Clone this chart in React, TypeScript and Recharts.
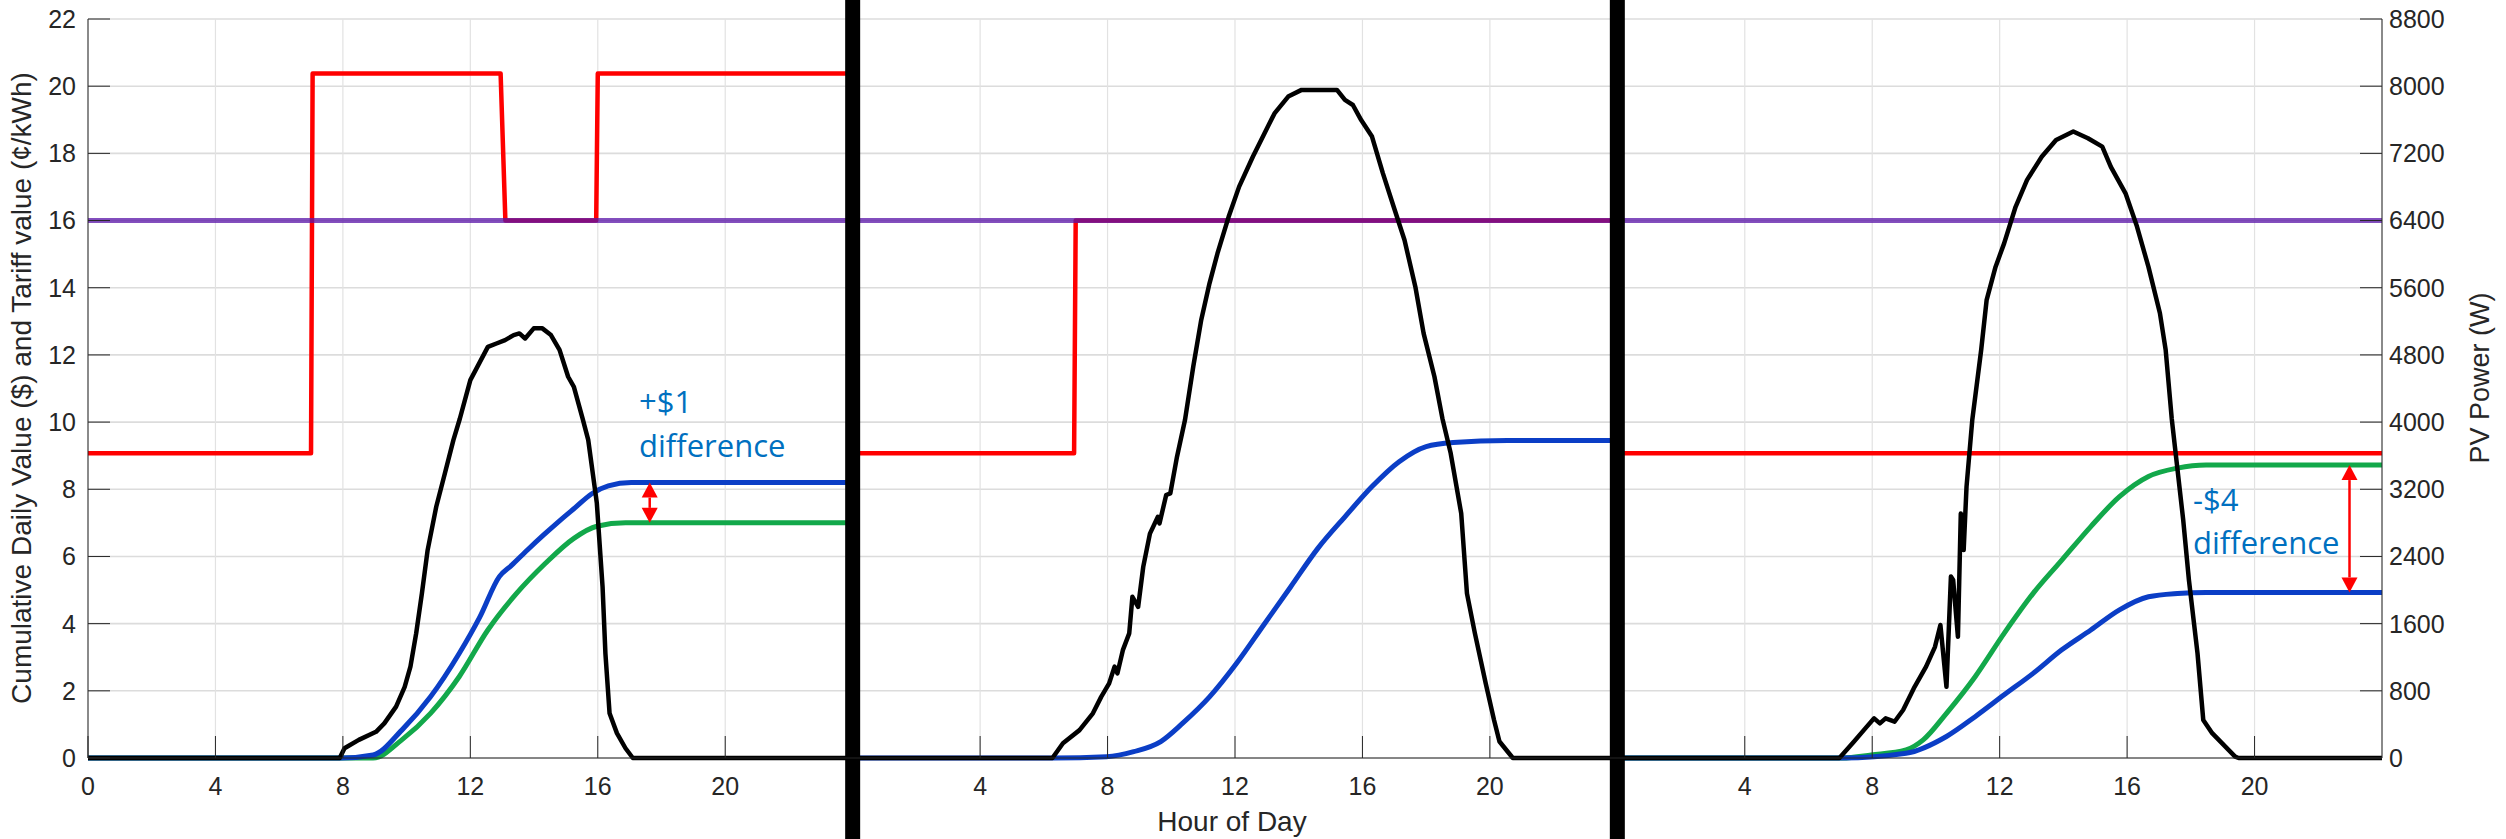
import { LineChart, Line, XAxis, YAxis, CartesianGrid, ReferenceLine } from 'recharts';

type Pt = [number, number];

// axis ticks (hour labels restart every day)
const hourTicks = [0, 4, 8, 12, 16, 20, 28, 32, 36, 40, 44, 52, 56, 60, 64, 68];
const valueTicks = [0, 2, 4, 6, 8, 10, 12, 14, 16, 18, 20, 22];
const powerTicks = [0, 800, 1600, 2400, 3200, 4000, 4800, 5600, 6400, 7200, 8000, 8800];
const dayBreaks = [24, 48];

// tariff, ¢/kWh  [hour of day, value]
const tariffDay1: Pt[] = [[0, 9.07], [7.0, 9.07], [7.05, 20.38], [12.95, 20.38], [13.1, 16], [15.95, 16], [16.0, 20.38], [24, 20.38]];
const tariffDay2: Pt[] = [[0, 9.07], [6.95, 9.07], [7.0, 16], [24, 16]];
const tariffDay3: Pt[] = [[0, 9.07], [24, 9.07]];
const flatTariff: Pt[] = [[0, 16], [72, 16]];

// PV power, W
const pvDay1: Pt[] = [[0, 0], [7.9, 0], [8.05, 116], [8.5, 216], [9.04, 312], [9.3, 412], [9.67, 612], [9.94, 848], [10.12, 1088], [10.3, 1484], [10.48, 1960], [10.66, 2476], [10.93, 2992], [11.2, 3388], [11.47, 3788], [11.67, 4040], [12.0, 4500], [12.55, 4896], [12.82, 4936], [13.09, 4976], [13.36, 5036], [13.54, 5056], [13.72, 4996], [13.99, 5116], [14.26, 5116], [14.53, 5036], [14.8, 4860], [15.07, 4540], [15.25, 4420], [15.52, 4048], [15.7, 3788], [15.97, 3036], [16.15, 2040], [16.24, 1244], [16.37, 532], [16.6, 296], [16.87, 116], [17.1, 0], [24, 0]];
const pvDay2: Pt[] = [[0, 0], [6.27, 0], [6.6, 176], [7.12, 332], [7.54, 532], [7.8, 728], [8.05, 888], [8.22, 1088], [8.31, 1008], [8.48, 1284], [8.68, 1484], [8.78, 1920], [8.96, 1800], [9.12, 2276], [9.33, 2672], [9.58, 2872], [9.63, 2792], [9.84, 3132], [9.97, 3152], [10.18, 3588], [10.43, 4024], [10.69, 4660], [10.94, 5216], [11.2, 5652], [11.45, 6008], [11.8, 6444], [12.13, 6804], [12.56, 7160], [12.9, 7420], [13.24, 7676], [13.67, 7876], [14.09, 7956], [15.2, 7956], [15.45, 7836], [15.7, 7776], [15.96, 7596], [16.3, 7400], [16.64, 6964], [16.98, 6564], [17.32, 6168], [17.66, 5612], [17.92, 5056], [18.26, 4540], [18.51, 4044], [18.77, 3628], [19.1, 2912], [19.28, 1960], [19.53, 1484], [19.87, 888], [20.13, 452], [20.3, 196], [20.72, 0], [24, 0]];
const pvDay3: Pt[] = [[0, 0], [6.97, 0], [7.43, 196], [7.79, 356], [8.06, 472], [8.24, 412], [8.42, 472], [8.7, 432], [8.97, 572], [9.33, 848], [9.69, 1088], [9.97, 1324], [10.14, 1584], [10.33, 848], [10.47, 2160], [10.54, 2120], [10.69, 1444], [10.78, 2912], [10.87, 2476], [10.96, 3232], [11.14, 4024], [11.42, 4860], [11.59, 5452], [11.87, 5848], [12.14, 6128], [12.5, 6564], [12.86, 6884], [13.32, 7160], [13.77, 7360], [14.31, 7460], [14.77, 7380], [15.22, 7280], [15.49, 7040], [15.95, 6724], [16.31, 6328], [16.67, 5848], [17.03, 5296], [17.21, 4860], [17.4, 4044], [17.76, 2836], [17.94, 2120], [18.21, 1244], [18.39, 452], [18.67, 296], [19.03, 156], [19.39, 16], [19.5, 0], [24, 0]];

// cumulative daily value, $
const blueDay1: Pt[] = [[0, 0], [7.96, 0], [8.95, 0.09], [9.85, 0.83], [10.75, 1.82], [11.65, 3.11], [12.3, 4.2], [12.91, 5.4], [13.3, 5.74], [13.8, 6.2], [14.3, 6.64], [14.8, 7.06], [15.3, 7.46], [15.8, 7.86], [16.33, 8.1], [17.05, 8.2], [24, 8.2]];
const greenDay1: Pt[] = [[0, 0], [8.95, 0], [9.85, 0.54], [10.75, 1.33], [11.65, 2.42], [12.55, 3.81], [13.45, 4.9], [14.35, 5.79], [15.25, 6.54], [15.97, 6.9], [16.87, 7.0], [24, 7.0]];
const blueDay2: Pt[] = [[0, 0], [6.3, 0], [7.97, 0.04], [8.82, 0.19], [9.67, 0.49], [10.35, 1.03], [11.2, 1.82], [12.05, 2.82], [12.9, 3.96], [13.75, 5.1], [14.6, 6.24], [15.45, 7.18], [16.3, 8.08], [17.15, 8.82], [18.0, 9.27], [18.85, 9.39], [20.55, 9.45], [24, 9.45]];
const blueDay3: Pt[] = [[0, 0], [7.06, 0], [9.06, 0.14], [10.33, 0.64], [11.23, 1.23], [12.14, 1.88], [13.05, 2.52], [13.95, 3.22], [14.86, 3.81], [15.76, 4.41], [16.67, 4.8], [17.58, 4.9], [18.48, 4.93], [24, 4.93]];
const greenDay3: Pt[] = [[0, 0], [7.06, 0], [7.97, 0.09], [9.06, 0.24], [9.6, 0.54], [10.33, 1.33], [11.23, 2.42], [12.14, 3.71], [13.05, 4.9], [13.95, 5.89], [14.86, 6.89], [15.76, 7.78], [16.67, 8.38], [17.58, 8.63], [18.48, 8.72], [24, 8.72]];

// where the difference arrows sit (hour of day)
const arrowHourDay1 = 17.63;
const arrowHourDay3 = 22.98;

const RED = '#ff0000';
const PURPLE = '#5a14a8';
const BLUE = '#0b3ec6';
const GREEN = '#12a84a';
const NOTE = '#0070c0';
const AXIS = '#262626';

const rows = (pts: Pt[], day: number) => pts.map(([h, v]) => ({ hour: h + day * 24, v }));
const last = (pts: Pt[]) => pts[pts.length - 1][1];

const DoubleArrow = (props: any) => {
  const { x1, y1, y2 } = props;
  const top = Math.min(y1, y2);
  const bot = Math.max(y1, y2);
  const hl = 15;
  const hw = 8;
  return (
    <g>
      <line x1={x1} y1={top + hl} x2={x1} y2={bot - hl} stroke={RED} strokeWidth={2.5} />
      <polygon points={`${x1},${top} ${x1 - hw},${top + hl} ${x1 + hw},${top + hl}`} fill={RED} />
      <polygon points={`${x1},${bot} ${x1 - hw},${bot - hl} ${x1 + hw},${bot - hl}`} fill={RED} />
    </g>
  );
};

const tickFont = { fill: AXIS, fontSize: 25, fontFamily: '"Liberation Sans", Arial, sans-serif' };
const titleFont = '"Liberation Sans", Arial, sans-serif';
const noteFont = '"Open Sans", sans-serif';

export default function App() {
  const W = 2506;
  const H = 839;
  const lineBase = { dot: false, isAnimationActive: false, xAxisId: 'bottom', strokeLinejoin: 'round' as const };

  return (
    <div style={{ position: 'absolute', left: 0, top: 0, width: W, height: H, background: '#fff' }}>
      <LineChart width={W} height={H} margin={{ top: 19, right: 0, bottom: 0, left: 0 }}>
        <CartesianGrid xAxisId="bottom" yAxisId="left" vertical={false} stroke="#dcdcdc" strokeWidth={1.6} />
        <CartesianGrid xAxisId="bottom" yAxisId="left" horizontal={false} stroke="#e2e2e2" strokeWidth={1.2} />
        <XAxis
          xAxisId="bottom"
          dataKey="hour"
          type="number"
          domain={[0, 72]}
          allowDataOverflow
          ticks={hourTicks}
          tickFormatter={(h: number) => String(h % 24)}
          height={81}
          tickSize={-22}
          tickMargin={41}
          tick={tickFont}
          stroke={AXIS}
        />
        <XAxis
          xAxisId="top"
          orientation="top"
          dataKey="hour"
          type="number"
          domain={[0, 72]}
          allowDataOverflow
          ticks={hourTicks}
          tickFormatter={() => ''}
          height={0}
          tickSize={-22}
          stroke={AXIS}
        />
        <YAxis
          yAxisId="left"
          type="number"
          domain={[0, 22]}
          ticks={valueTicks}
          width={88}
          tickSize={-22}
          tickMargin={34}
          tick={tickFont}
          stroke={AXIS}
        />
        <YAxis
          yAxisId="right"
          orientation="right"
          type="number"
          domain={[0, 8800]}
          ticks={powerTicks}
          width={124}
          tickSize={-22}
          tickMargin={29}
          tick={tickFont}
          stroke={AXIS}
        />

        <Line {...lineBase} yAxisId="left" data={rows(tariffDay1, 0)} dataKey="v" type="linear" stroke={RED} strokeWidth={4.5} />
        <Line {...lineBase} yAxisId="left" data={rows(tariffDay2, 1)} dataKey="v" type="linear" stroke={RED} strokeWidth={4.5} />
        <Line {...lineBase} yAxisId="left" data={rows(tariffDay3, 2)} dataKey="v" type="linear" stroke={RED} strokeWidth={4.5} />
        <Line {...lineBase} yAxisId="left" data={rows(flatTariff, 0)} dataKey="v" type="linear" stroke={PURPLE} strokeOpacity={0.75} strokeWidth={5} />

        <Line {...lineBase} yAxisId="left" data={rows(greenDay1, 0)} dataKey="v" type="monotone" stroke={GREEN} strokeWidth={5} />
        <Line {...lineBase} yAxisId="left" data={rows(greenDay3, 2)} dataKey="v" type="monotone" stroke={GREEN} strokeWidth={5} />
        <Line {...lineBase} yAxisId="left" data={rows(blueDay1, 0)} dataKey="v" type="monotone" stroke={BLUE} strokeWidth={5} />
        <Line {...lineBase} yAxisId="left" data={rows(blueDay2, 1)} dataKey="v" type="monotone" stroke={BLUE} strokeWidth={5} />
        <Line {...lineBase} yAxisId="left" data={rows(blueDay3, 2)} dataKey="v" type="monotone" stroke={BLUE} strokeWidth={5} />

        <Line {...lineBase} yAxisId="right" data={rows(pvDay1, 0)} dataKey="v" type="linear" stroke="#000" strokeWidth={4.5} />
        <Line {...lineBase} yAxisId="right" data={rows(pvDay2, 1)} dataKey="v" type="linear" stroke="#000" strokeWidth={4.5} />
        <Line {...lineBase} yAxisId="right" data={rows(pvDay3, 2)} dataKey="v" type="linear" stroke="#000" strokeWidth={4.5} />

        <ReferenceLine
          xAxisId="bottom"
          yAxisId="left"
          ifOverflow="visible"
          segment={[{ x: arrowHourDay1, y: last(blueDay1) }, { x: arrowHourDay1, y: last(greenDay1) }]}
          shape={DoubleArrow}
        />
        <ReferenceLine
          xAxisId="bottom"
          yAxisId="left"
          ifOverflow="visible"
          segment={[{ x: 48 + arrowHourDay3, y: last(greenDay3) }, { x: 48 + arrowHourDay3, y: last(blueDay3) }]}
          shape={DoubleArrow}
        />

        {dayBreaks.map((h) => (
          <ReferenceLine
            key={h}
            xAxisId="bottom"
            yAxisId="left"
            ifOverflow="visible"
            segment={[{ x: h, y: -2.6 }, { x: h, y: 22.7 }]}
            stroke="#000"
            strokeWidth={15}
          />
        ))}
      </LineChart>

      <svg width={W} height={H} style={{ position: 'absolute', left: 0, top: 0, pointerEvents: 'none' }}>
        <text transform="translate(31, 388) rotate(-90)" textAnchor="middle" fontFamily={titleFont} fontSize={28} fill={AXIS}>
          Cumulative Daily Value ($) and Tariff value (¢/kWh)
        </text>
        <text transform="translate(2489, 378) rotate(-90)" textAnchor="middle" fontFamily={titleFont} fontSize={27} fill={AXIS}>
          PV Power (W)
        </text>
        <text x={1232} y={831} textAnchor="middle" fontFamily={titleFont} fontSize={28} fill={AXIS}>
          Hour of Day
        </text>
        <text x={639} y={413} fontFamily={noteFont} fontSize={31} fill={NOTE}>+$1</text>
        <text x={639} y={457} fontFamily={noteFont} fontSize={31} fill={NOTE}>difference</text>
        <text x={2193} y={511} fontFamily={noteFont} fontSize={31} fill={NOTE}>-$4</text>
        <text x={2193} y={554} fontFamily={noteFont} fontSize={31} fill={NOTE}>difference</text>
      </svg>
    </div>
  );
}
